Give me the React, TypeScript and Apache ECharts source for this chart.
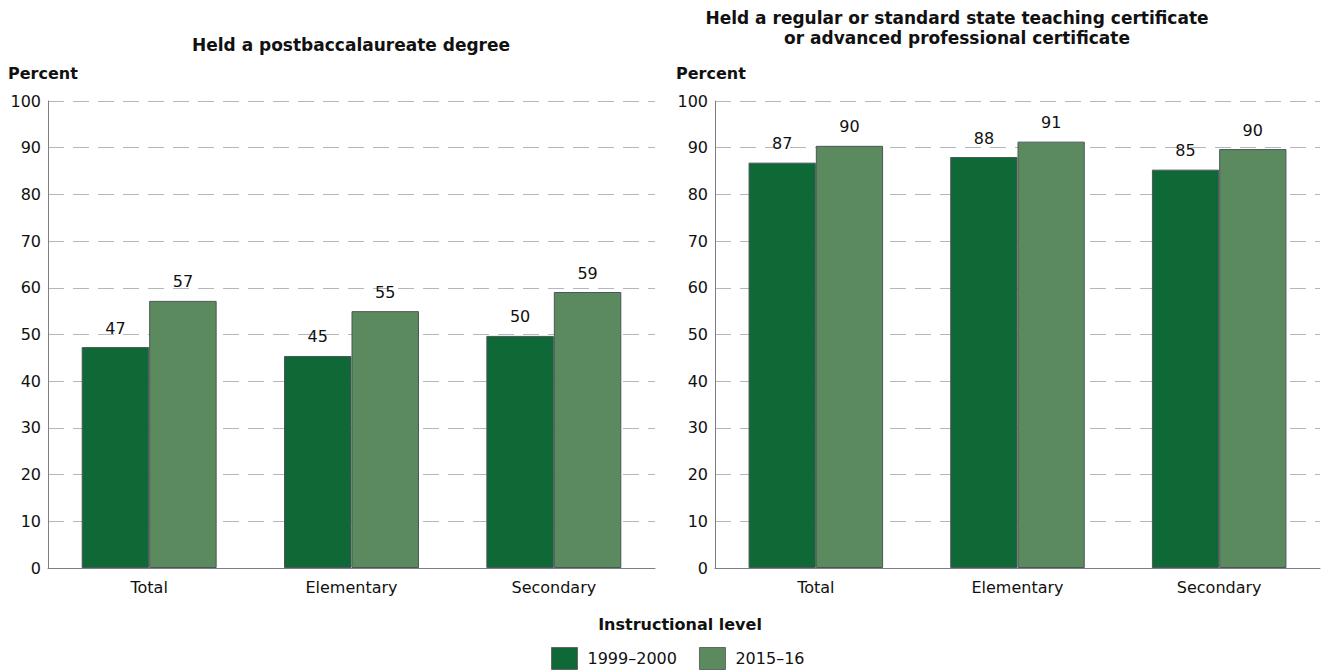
import React, { useEffect, useRef } from "react";
import * as echarts from "echarts";

const categories = ["Total", "Elementary", "Secondary"];
const degree1999 = [47.3, 45.4, 49.7];
const degree2015 = [57.2, 55.0, 59.1];
const degreeLabels1999 = ["47", "45", "50"];
const degreeLabels2015 = ["57", "55", "59"];
const cert1999 = [86.8, 88.0, 85.3];
const cert2015 = [90.4, 91.3, 89.7];
const certLabels1999 = ["87", "88", "85"];
const certLabels2015 = ["90", "91", "90"];
const seriesNames = ["1999–2000", "2015–16"];

const FONT = "'DejaVu Sans', sans-serif";
const DARK = "#0e6936";
const LIGHT = "#5b8a5f";
const BORDER = "#4b5656";

export default function App() {
  const ref = useRef<HTMLDivElement>(null);
  useEffect(() => {
    document.body.style.margin = "0";
    const chart = echarts.init(ref.current!, undefined, { renderer: "svg" });
    const grids = [
      { left: 48, top: 101, width: 607, height: 467 },
      { left: 715, top: 101, width: 605, height: 467 },
    ];
    const xAxis = grids.map((_, i) => ({
      type: "category",
      gridIndex: i,
      data: categories,
      axisTick: { show: false },
      axisLine: { lineStyle: { color: "#7b7f88", width: 1 } },
      axisLabel: { color: "#111", fontSize: 16, fontFamily: FONT, margin: 11 },
    }));
    const yAxis = grids.map((_, i) => ({
      type: "value",
      gridIndex: i,
      min: 0,
      max: 100,
      interval: 10,
      axisLine: { show: true, lineStyle: { color: "#7b7f88", width: 1 } },
      axisTick: { show: false },
      axisLabel: { color: "#111", fontSize: 16, fontFamily: FONT, margin: 7 },
      splitLine: {
        show: true,
        lineStyle: { color: "#b3b6bd", type: [16, 9], width: 1 },
      },
    }));
    const mkSeries = (
      name: string,
      data: number[],
      labels: string[],
      color: string,
      idx: number
    ) => ({
      type: "bar",
      name,
      xAxisIndex: idx,
      yAxisIndex: idx,
      data,
      barGap: "0%",
      barCategoryGap: "33.3%",
      itemStyle: { color, borderColor: BORDER, borderWidth: 1 },
      label: {
        show: true,
        position: "top",
        distance: 11,
        color: "#111",
        fontSize: 16,
        fontFamily: FONT,
        formatter: (p: any) => labels[p.dataIndex],
      },
    });
    const bold = (text: string, x: number, y: number, align = "left", size = 15) => ({
      type: "text",
      x,
      y,
      style: {
        text,
        fontSize: size,
        fontWeight: "bold",
        fill: "#111",
        fontFamily: FONT,
        textAlign: align,
        lineHeight: 20,
      },
    });
    chart.setOption({
      animation: false,
      textStyle: { fontFamily: FONT },
      grid: grids,
      xAxis,
      yAxis,
      series: [
        mkSeries(seriesNames[0], degree1999, degreeLabels1999, DARK, 0),
        mkSeries(seriesNames[1], degree2015, degreeLabels2015, LIGHT, 0),
        mkSeries(seriesNames[0], cert1999, certLabels1999, DARK, 1),
        mkSeries(seriesNames[1], cert2015, certLabels2015, LIGHT, 1),
      ],
      legend: {
        data: seriesNames,
        left: 546,
        top: 642,
        itemWidth: 26,
        itemHeight: 22,
        itemGap: 22,
        icon: "rect",
        itemStyle: { borderColor: "#666", borderWidth: 1 },
        textStyle: {
          color: "#111",
          fontSize: 16,
          lineHeight: 16,
          fontFamily: FONT,
          padding: [0, 0, 0, 5],
        },
        selectedMode: false,
      },
      graphic: [
        bold("Held a postbaccalaureate degree", 351, 35, "center", 17),
        bold(
          "Held a regular or standard state teaching certificate\nor advanced professional certificate",
          957,
          8,
          "center",
          17
        ),
        bold("Percent", 8, 63, "left", 16),
        bold("Percent", 676, 63, "left", 16),
        bold("Instructional level", 680, 614, "center", 16),
      ],
    });
    return () => chart.dispose();
  }, []);
  return <div ref={ref} style={{ width: 1323, height: 670 }} />;
}
